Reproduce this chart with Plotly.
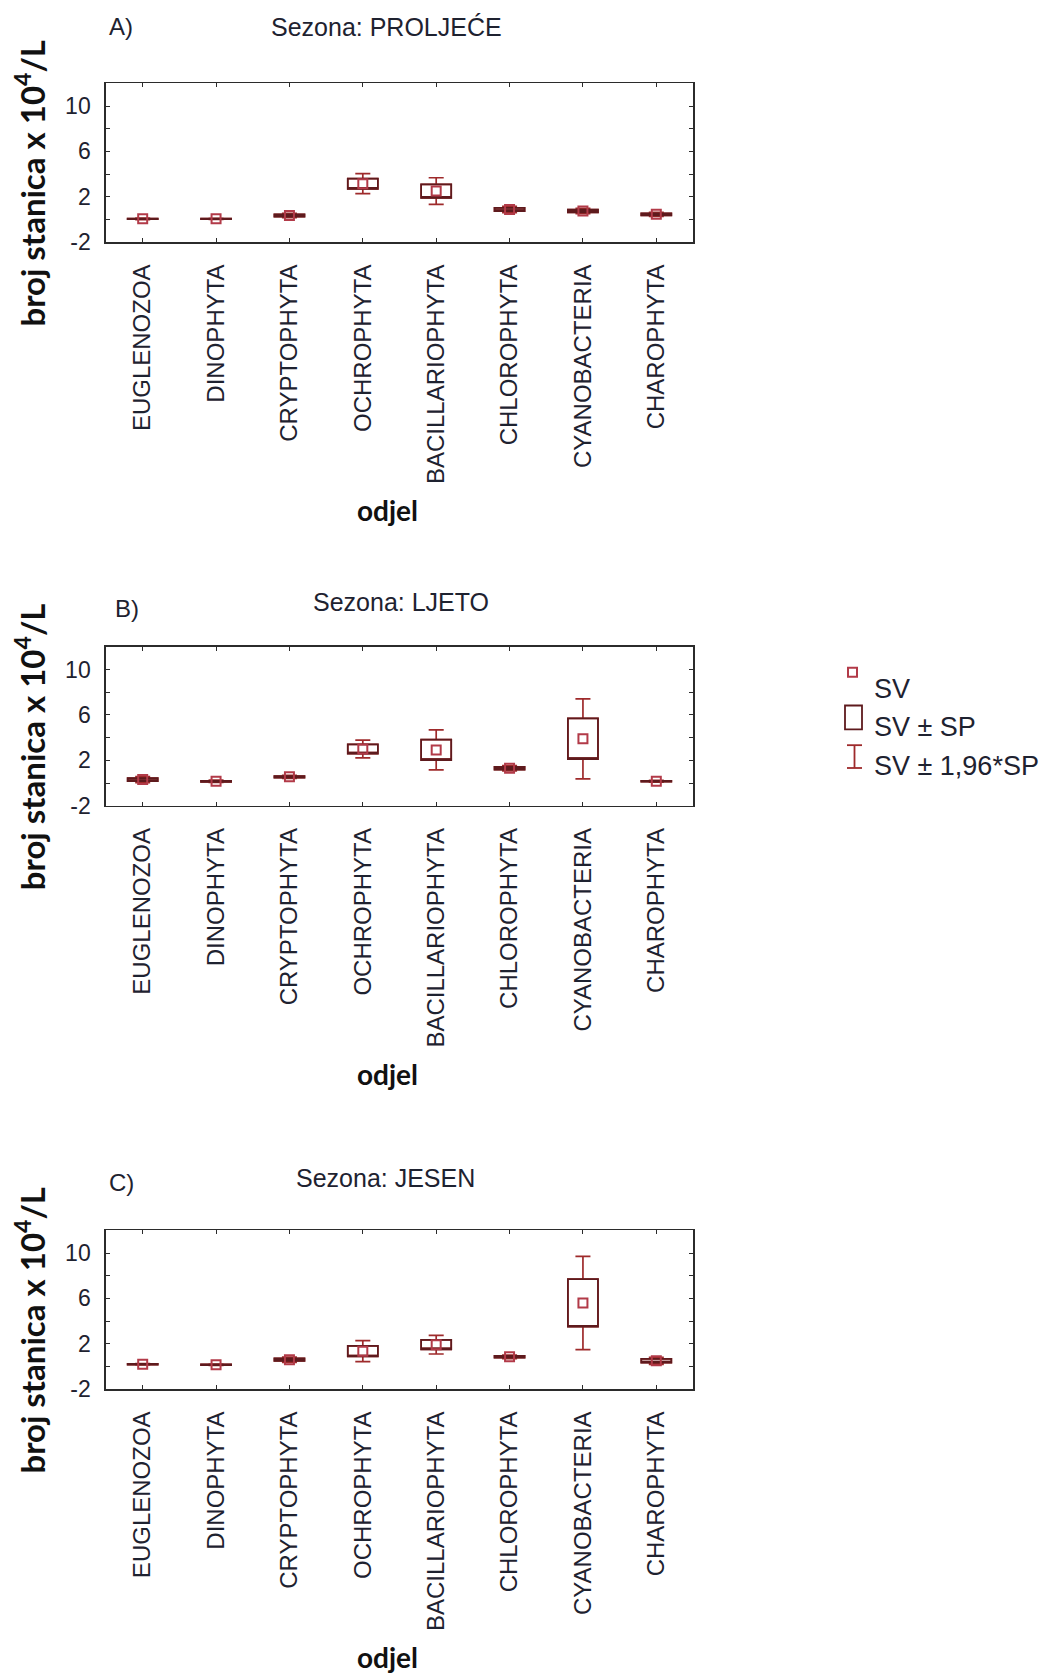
import plotly.graph_objects as go

# ---------------- data ----------------
categories = ["EUGLENOZOA", "DINOPHYTA", "CRYPTOPHYTA", "OCHROPHYTA",
              "BACILLARIOPHYTA", "CHLOROPHYTA", "CYANOBACTERIA", "CHAROPHYTA"]

seasons = ["PROLJEĆE", "LJETO", "JESEN"]
panel_letters = ["A)", "B)", "C)"]

# mean (SV) and standard error (SP) per division, x 10^4 cells/L
mean_proljece = [0.05, 0.05, 0.35, 3.15, 2.50, 0.88, 0.75, 0.45]
se_proljece   = [0.03, 0.02, 0.10, 0.45, 0.60, 0.14, 0.12, 0.09]

mean_ljeto = [0.30, 0.15, 0.55, 3.00, 2.92, 1.30, 3.90, 0.15]
se_ljeto   = [0.14, 0.05, 0.07, 0.40, 0.90, 0.12, 1.80, 0.04]

mean_jesen = [0.20, 0.15, 0.60, 1.35, 1.92, 0.85, 5.60, 0.50]
se_jesen   = [0.03, 0.03, 0.12, 0.47, 0.42, 0.08, 2.10, 0.16]

means = [mean_proljece, mean_ljeto, mean_jesen]
ses = [se_proljece, se_ljeto, se_jesen]

y_tickvals = [-2, 2, 6, 10]
y_ticktext = ["-2", "2", "6", "10"]
y_range = [-2, 12]

legend_labels = ["SV", "SV ± SP", "SV ± 1,96*SP"]
x_title = "odjel"
y_title = "broj stanica x 10<sup>4</sup>/L"

# ---------------- style ----------------
W, H = 1054, 1676
C_WHISK = "#9E2A2B"
C_BOX = "#5E1A1D"
C_MEAN = "#B23A48"
C_AXIS = "#2b2b2b"
C_TEXT = "#1e2230"
FONT = "Liberation Sans, Arial, sans-serif"
FONT_B = "Lato, Open Sans, sans-serif"

panel_tops = [84, 652, 1240]
panel_h = 160
x_left, x_right = 106, 693
title_y = [27, 607, 1187]
title_x = [386, 401, 385]
letter_pos = [(121, 27), (127, 613), (121, 1192)]


def fx(p):
    return p / W


def fy(p):
    return 1 - p / H


fig = go.Figure()
annotations = []
shapes = []
layout_axes = {}

for i in range(3):
    n = "" if i == 0 else str(i + 1)
    xa, ya = "x" + n, "y" + n
    m = means[i]
    s = ses[i]
    lo = [a - b for a, b in zip(m, s)]
    hi = [a + b for a, b in zip(m, s)]
    wlo = [a - 1.96 * b for a, b in zip(m, s)]
    whi = [a + 1.96 * b for a, b in zip(m, s)]

    # whiskers: mean +/- 1.96*SE
    fig.add_trace(go.Box(
        x=categories, q1=lo, q3=hi, median=lo, lowerfence=wlo, upperfence=whi,
        xaxis=xa, yaxis=ya, width=0.41, whiskerwidth=0.5,
        line=dict(color=C_WHISK, width=1.7), fillcolor="rgba(0,0,0,0)",
        boxpoints=False, showlegend=False, hoverinfo="skip"))
    # box: mean +/- SE
    fig.add_trace(go.Box(
        x=categories, q1=lo, q3=hi, median=lo, lowerfence=lo, upperfence=hi,
        xaxis=xa, yaxis=ya, width=0.41, whiskerwidth=0,
        line=dict(color=C_BOX, width=1.7), fillcolor="rgba(0,0,0,0)",
        boxpoints=False, showlegend=False, hoverinfo="skip"))
    # mean
    fig.add_trace(go.Scatter(
        x=categories, y=m, mode="markers", xaxis=xa, yaxis=ya,
        marker=dict(symbol="square-open", size=9, color=C_MEAN,
                    line=dict(width=2, color=C_MEAN)),
        showlegend=False, hoverinfo="skip"))

    top = panel_tops[i]
    bot = top + panel_h
    layout_axes["xaxis" + n] = dict(
        domain=[fx(x_left), fx(x_right)], anchor=ya, type="category",
        range=[-0.5, 7.5], showline=True, linecolor=C_AXIS, linewidth=1.7,
        mirror="ticks", ticks="inside", ticklen=4, tickcolor=C_AXIS,
        tickangle=-90, ticklabelstandoff=11,
        tickfont=dict(family=FONT, size=24, color=C_TEXT),
        showgrid=False, zeroline=False, fixedrange=True)
    layout_axes["yaxis" + n] = dict(
        domain=[fy(bot), fy(top)], anchor=xa, range=y_range,
        tickvals=y_tickvals, ticktext=y_ticktext,
        showline=True, linecolor=C_AXIS, linewidth=1.7,
        mirror="ticks", ticks="inside", ticklen=4, tickcolor=C_AXIS,
        minor=dict(dtick=2, tick0=0, ticks="inside", ticklen=4, tickcolor=C_AXIS),
        ticklabelstandoff=9,
        tickfont=dict(family=FONT, size=23, color=C_TEXT),
        showgrid=False, zeroline=False, fixedrange=True)

    annotations.append(dict(
        text="Sezona: " + seasons[i], x=fx(title_x[i]), y=fy(title_y[i]),
        xref="paper", yref="paper", xanchor="center", yanchor="middle",
        showarrow=False, font=dict(family=FONT, size=25, color=C_TEXT)))
    lx, ly = letter_pos[i]
    annotations.append(dict(
        text=panel_letters[i], x=fx(lx), y=fy(ly), xref="paper", yref="paper",
        xanchor="center", yanchor="middle", showarrow=False,
        font=dict(family=FONT, size=24, color=C_TEXT)))
    annotations.append(dict(
        text=x_title, x=fx(387), y=fy(top + 430), xref="paper", yref="paper",
        xanchor="center", yanchor="middle", showarrow=False,
        font=dict(family=FONT_B, size=28, color="#111111", weight="bold")))
    annotations.append(dict(
        text=y_title, x=fx(30), y=fy(top + 101), xref="paper", yref="paper",
        xanchor="center", yanchor="middle", textangle=-90, showarrow=False,
        font=dict(family=FONT_B, size=33, color="#111111", weight="bold")))

# legend (drawn as key glyphs + text)
leg_text_y = [694, 733, 772]
for lbl, ty in zip(legend_labels, leg_text_y):
    annotations.append(dict(
        text=lbl, x=fx(872), y=fy(ty), xref="paper", yref="paper",
        xanchor="left", yanchor="middle", showarrow=False,
        font=dict(family=FONT, size=27, color=C_TEXT)))
# SV key: small square
shapes.append(dict(type="rect", xref="paper", yref="paper",
                   x0=fx(848), x1=fx(857), y0=fy(682), y1=fy(673),
                   line=dict(color=C_MEAN, width=2)))
# SV ± SP key: box
shapes.append(dict(type="rect", xref="paper", yref="paper",
                   x0=fx(845), x1=fx(862), y0=fy(735), y1=fy(711),
                   line=dict(color=C_BOX, width=1.8)))
# SV ± 1,96*SP key: I-beam
shapes.append(dict(type="line", xref="paper", yref="paper",
                   x0=fx(854.5), x1=fx(854.5), y0=fy(774), y1=fy(751),
                   line=dict(color=C_WHISK, width=1.8)))
shapes.append(dict(type="line", xref="paper", yref="paper",
                   x0=fx(847), x1=fx(862), y0=fy(751), y1=fy(751),
                   line=dict(color=C_WHISK, width=1.8)))
shapes.append(dict(type="line", xref="paper", yref="paper",
                   x0=fx(847), x1=fx(862), y0=fy(774), y1=fy(774),
                   line=dict(color=C_WHISK, width=1.8)))

fig.update_layout(
    width=W, height=H, autosize=False,
    margin=dict(l=0, r=0, t=0, b=0),
    paper_bgcolor="white", plot_bgcolor="white",
    boxmode="overlay", showlegend=False,
    annotations=annotations, shapes=shapes,
    **layout_axes)

fig.write_html("out.html",
               config={"displayModeBar": False, "staticPlot": True},
               post_script="document.body.style.margin='0';"
                           "document.body.style.overflow='hidden';")
